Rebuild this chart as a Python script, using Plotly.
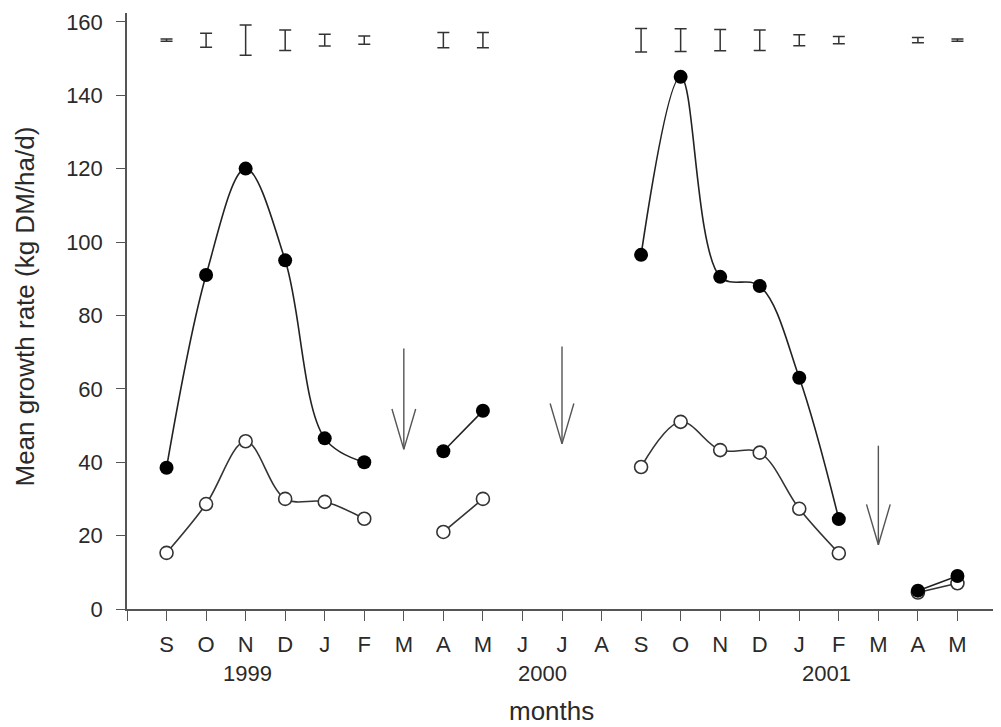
import plotly.graph_objects as go

# ---- data ----
months = ["S", "O", "N", "D", "J", "F", "M", "A", "M", "J", "J", "A",
          "S", "O", "N", "D", "J", "F", "M", "A", "M"]
x_idx = list(range(len(months)))

filled = [38.5, 91, 120, 95, 46.5, 40, None, 43, 54, None, None, None,
          96.5, 145, 90.5, 88, 63, 24.5, None, 5, 9]
open_ = [15.3, 28.6, 45.7, 30, 29.2, 24.6, None, 21, 30, None, None, None,
         38.7, 51, 43.3, 42.6, 27.3, 15.2, None, 4.5, 7]

# LSD-type bars drawn at the top of the chart
err_x = [0, 1, 2, 3, 4, 5, 7, 8, 12, 13, 14, 15, 16, 17, 19, 20]
err_half = [0.3, 1.9, 4.1, 2.8, 1.6, 1.1, 2.1, 2.1, 3.2, 3.1, 2.9, 2.8, 1.5, 1.0, 0.7, 0.3]
err_level = 155

# arrows (x index, start value, tip value)
arrow_x = [6, 10, 18]
arrow_top = [71, 71.5, 44.5]
arrow_tip = [43.5, 45, 17.5]

years = ["1999", "2000", "2001"]
year_pos = [2.05, 9.5, 16.7]

FONT = "Liberation Sans"
TXT = "#2a2a2a"

fig = go.Figure()

# open circles (under)
fig.add_trace(go.Scatter(
    x=x_idx, y=open_, mode="lines+markers",
    line=dict(color="#333333", width=1.6, shape="spline", smoothing=1),
    marker=dict(symbol="circle", size=13, color="white",
                line=dict(color="#333333", width=1.6)),
    connectgaps=False, showlegend=False))

# filled circles
fig.add_trace(go.Scatter(
    x=x_idx, y=filled, mode="lines+markers",
    line=dict(color="#222222", width=1.6, shape="spline", smoothing=1),
    marker=dict(symbol="circle", size=14, color="black",
                line=dict(color="black", width=0)),
    connectgaps=False, showlegend=False))

# error bars
fig.add_trace(go.Scatter(
    x=err_x, y=[err_level] * len(err_x), mode="markers",
    marker=dict(size=1, color="rgba(0,0,0,0)"),
    error_y=dict(type="data", array=err_half, visible=True,
                 color="#333333", thickness=1.5, width=6),
    showlegend=False))

# arrows: shaft + open V head
head_dx = 0.3
head_dy = 11
for ax, at, tip in zip(arrow_x, arrow_top, arrow_tip):
    fig.add_trace(go.Scatter(
        x=[ax, ax, None, ax - head_dx, ax, ax + head_dx],
        y=[at, tip, None, tip + head_dy, tip, tip + head_dy],
        mode="lines", line=dict(color="#555555", width=1.4),
        showlegend=False, hoverinfo="skip"))

tickvals = list(range(-1, len(months) + 1))
ticktext = [""] + months + [""]

fig.update_layout(
    width=993, height=719,
    margin=dict(l=119, r=4, t=2, b=118),
    plot_bgcolor="white", paper_bgcolor="white",
    font=dict(family=FONT, color=TXT, size=22),
    xaxis=dict(range=[-1, 21], tickvals=tickvals, ticktext=ticktext,
               showline=True, linecolor="#555555", linewidth=1.5,
               ticks="outside", ticklen=10, tickwidth=1.2, tickcolor="#555555",
               showgrid=False, zeroline=False, ticklabelstandoff=5,
               tickfont=dict(size=22, family=FONT, color=TXT)),
    yaxis=dict(range=[0, 162.4], tickvals=list(range(0, 161, 20)),
               showline=True, linecolor="#555555", linewidth=1.5,
               ticks="outside", ticklen=9, tickwidth=1.2, tickcolor="#555555",
               showgrid=False, zeroline=False, ticklabelstandoff=9,
               ticklabeloverflow="allow",
               tickfont=dict(size=22, family=FONT, color=TXT)),
)

annotations = []
for yr, xp in zip(years, year_pos):
    annotations.append(dict(x=xp, xref="x", y=-65 / 599, yref="paper",
                            text=yr, showarrow=False, xanchor="center",
                            yanchor="middle",
                            font=dict(size=22, family=FONT, color=TXT)))
annotations.append(dict(x=(551 - 127) / 870, xref="paper", y=-103 / 599, yref="paper",
                        text="months", showarrow=False, xanchor="center",
                        yanchor="middle", font=dict(size=26, family=FONT, color=TXT)))
annotations.append(dict(x=(25 - 127) / 870, xref="paper", y=304 / 599, yref="paper",
                        text="Mean growth rate (kg DM/ha/d)", showarrow=False,
                        textangle=-90, xanchor="center", yanchor="middle",
                        font=dict(size=26, family=FONT, color=TXT)))
fig.update_layout(annotations=annotations)

fig.write_html("out.html")
